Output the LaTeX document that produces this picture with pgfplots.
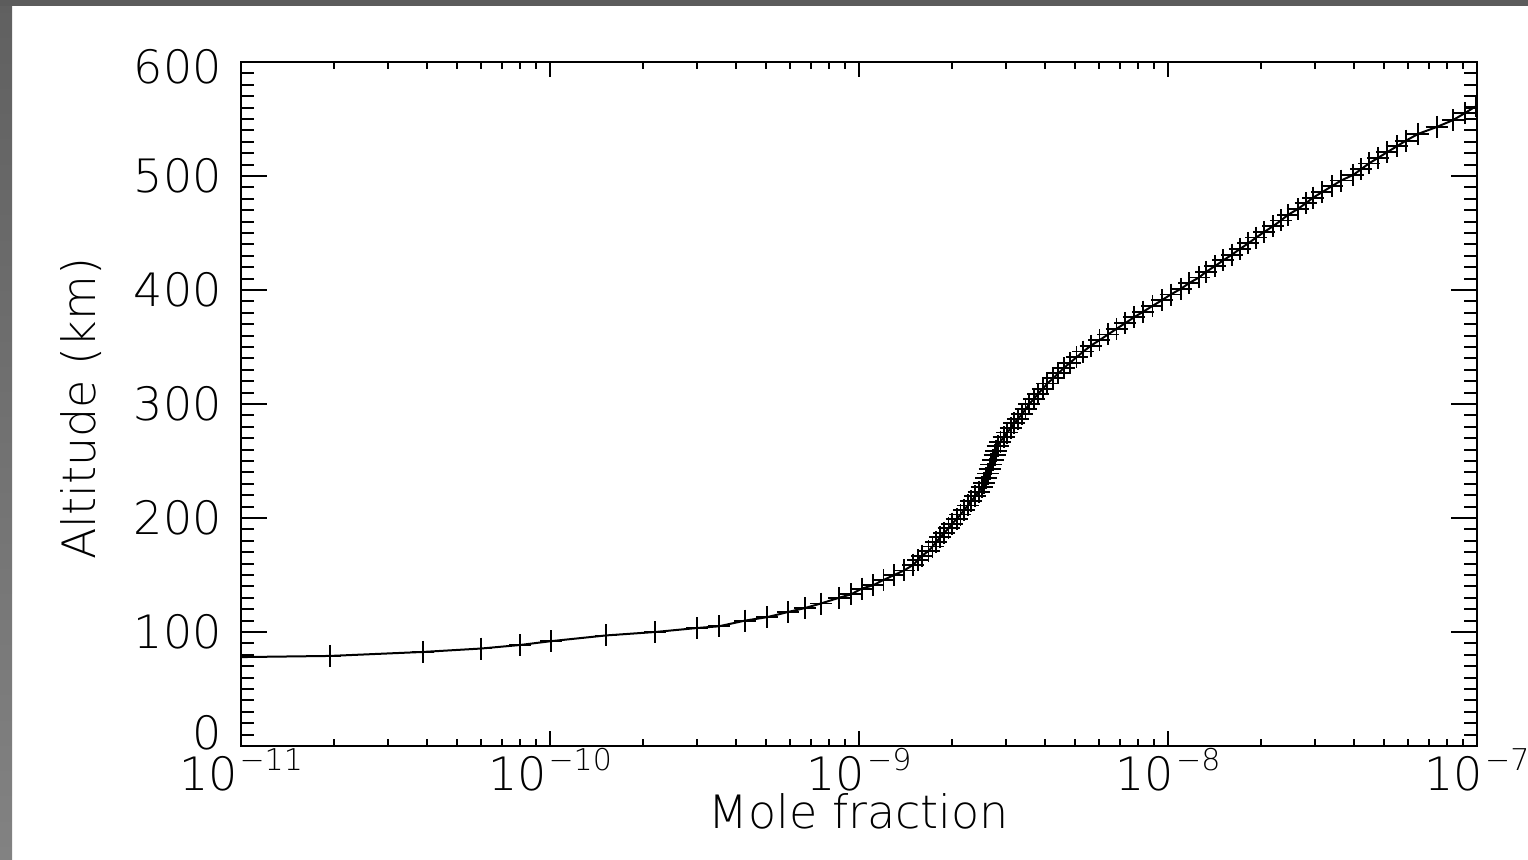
\documentclass[border=0pt]{standalone}
\usepackage{fontspec}
\setmainfont{DejaVu Sans ExtraLight}
\usepackage{pgfplots}
\pgfplotsset{compat=1.18}
\usepackage{pgfplotstable}
\definecolor{frametop}{RGB}{92,92,92}
\definecolor{frameleftA}{RGB}{96,96,96}
\definecolor{frameleftB}{RGB}{130,130,130}

\pgfplotstableread{
x alt
1.00e-11 78
1.94e-11 79
3.88e-11 82.5
5.98e-11 85.5
8.00e-11 88.6
1.01e-10 92
1.52e-10 97
2.19e-10 100
2.99e-10 103.5
3.52e-10 105
4.28e-10 110
5.04e-10 113
5.89e-10 117.5
6.68e-10 121
7.53e-10 125
8.61e-10 130
9.42e-10 133
1.02e-9 138
1.11e-9 141
1.20e-9 145.6
1.30e-9 150
1.40e-9 154
1.50e-9 159
1.55e-9 163
1.60e-9 167
1.68e-9 171
1.73e-9 175
1.78e-9 179
1.83e-9 183
1.89e-9 187
1.95e-9 191
2.00e-9 195
2.07e-9 199
2.13e-9 203
2.19e-9 207
2.25e-9 211
2.31e-9 215
2.38e-9 219
2.44e-9 223
2.50e-9 227
2.54e-9 231
2.58e-9 235
2.62e-9 239
2.65e-9 243
2.68e-9 247
2.72e-9 251
2.75e-9 255
2.78e-9 259
2.81e-9 263
2.87e-9 267
2.94e-9 271
3.02e-9 275
3.10e-9 279
3.18e-9 283
3.27e-9 287
3.37e-9 291
3.46e-9 295.5
3.56e-9 300
3.68e-9 304.5
3.80e-9 309
3.94e-9 313.5
4.07e-9 318
4.25e-9 322.5
4.42e-9 327
4.60e-9 331.5
4.81e-9 336
5.06e-9 341
5.32e-9 346
5.62e-9 351
6.00e-9 356
6.40e-9 361
6.82e-9 366
7.28e-9 371
7.76e-9 376
8.32e-9 381
8.91e-9 386
9.55e-9 391
1.02e-8 396
1.10e-8 401
1.17e-8 406
1.26e-8 411
1.33e-8 416
1.42e-8 421
1.51e-8 426
1.61e-8 431
1.71e-8 436
1.82e-8 441
1.93e-8 446
2.05e-8 451
2.19e-8 456
2.32e-8 461
2.45e-8 466
2.63e-8 471
2.79e-8 476
2.95e-8 481
3.16e-8 486
3.39e-8 491
3.63e-8 496
3.98e-8 501
4.22e-8 506
4.47e-8 511
4.79e-8 516
5.13e-8 521
5.50e-8 526
5.89e-8 531
6.46e-8 537
7.41e-8 543
8.36e-8 549
9.12e-8 555
9.89e-8 561
1.02e-7 564
}\profile

\newcommand\lab{\fontsize{23}{23}\selectfont}
\newcommand\dec[1]{10\kern1pt\raisebox{10pt}{\fontsize{15}{15}\selectfont −#1}}

\begin{document}
\begin{tikzpicture}
\useasboundingbox (0pt,0pt) rectangle (764pt,429.5pt);
\fill[white] (0pt,0pt) rectangle (764pt,429.5pt);
\shade[top color=frameleftA, bottom color=frameleftB] (0pt,0pt) rectangle (6pt,429.5pt);
\fill[frametop] (0pt,426.5pt) rectangle (764pt,429.5pt);

% y axis ticks, labels
\begin{axis}[
  at={(120.5pt,56.5pt)}, anchor=south west,
  scale only axis, width=618pt, height=342pt,
  xmin=0, xmax=1, ymin=0, ymax=600,
  xtick=\empty,
  ytick={0,100,200,300,400,500,600},
  yticklabels={\raisebox{7pt}[\height][0pt]{0},100,200,300,400,500,\raisebox{-2.25pt}[\height][0pt]{600}},
  minor y tick num=9,
  major tick length=13pt, minor tick length=6.5pt,
  tick align=inside,
  axis line style={black, line width=1pt},
  tick style={black, line width=1pt},
  yticklabel style={font=\lab, inner sep=0pt, anchor=east, xshift=-9.5pt},
  ylabel={Altitude (km)},
  ylabel style={at={(axis description cs:-0.1181,0.493)}, anchor=base, rotate=0, inner sep=0pt, font=\lab},
]
\end{axis}

% x axis ticks, labels, data
\begin{axis}[
  at={(120.5pt,56.5pt)}, anchor=south west,
  scale only axis, width=618pt, height=342pt,
  xmode=log, xmin=1e-11, xmax=1e-7, ymin=0, ymax=600,
  ytick=\empty,
  xtick={1e-11,1e-10,1e-9,1e-8,1e-7},
  xticklabels={\dec{11},\dec{10},\dec{9},\dec{8},\dec{7}},
  minor xtick={2e-11,3e-11,4e-11,5e-11,6e-11,7e-11,8e-11,9e-11,
               2e-10,3e-10,4e-10,5e-10,6e-10,7e-10,8e-10,9e-10,
               2e-9,3e-9,4e-9,5e-9,6e-9,7e-9,8e-9,9e-9,
               2e-8,3e-8,4e-8,5e-8,6e-8,7e-8,8e-8,9e-8},
  major tick length=7.5pt, minor tick length=3.5pt,
  tick align=inside,
  axis line style={black, line width=1pt},
  tick style={black, line width=1pt},
  xticklabel style={font=\lab, inner sep=0pt, anchor=north, yshift=-1pt},
  xlabel={Mole fraction},
  xlabel style={at={(axis description cs:0.5,-0.1213)}, anchor=base, inner sep=0pt, font=\lab},
  clip marker paths=true,
]
\addplot[black, line width=1pt, mark=+, mark size=5.5pt, mark options={line width=0.9pt}]
  table[x=x, y=alt] {\profile};
\end{axis}
\end{tikzpicture}
\end{document}
